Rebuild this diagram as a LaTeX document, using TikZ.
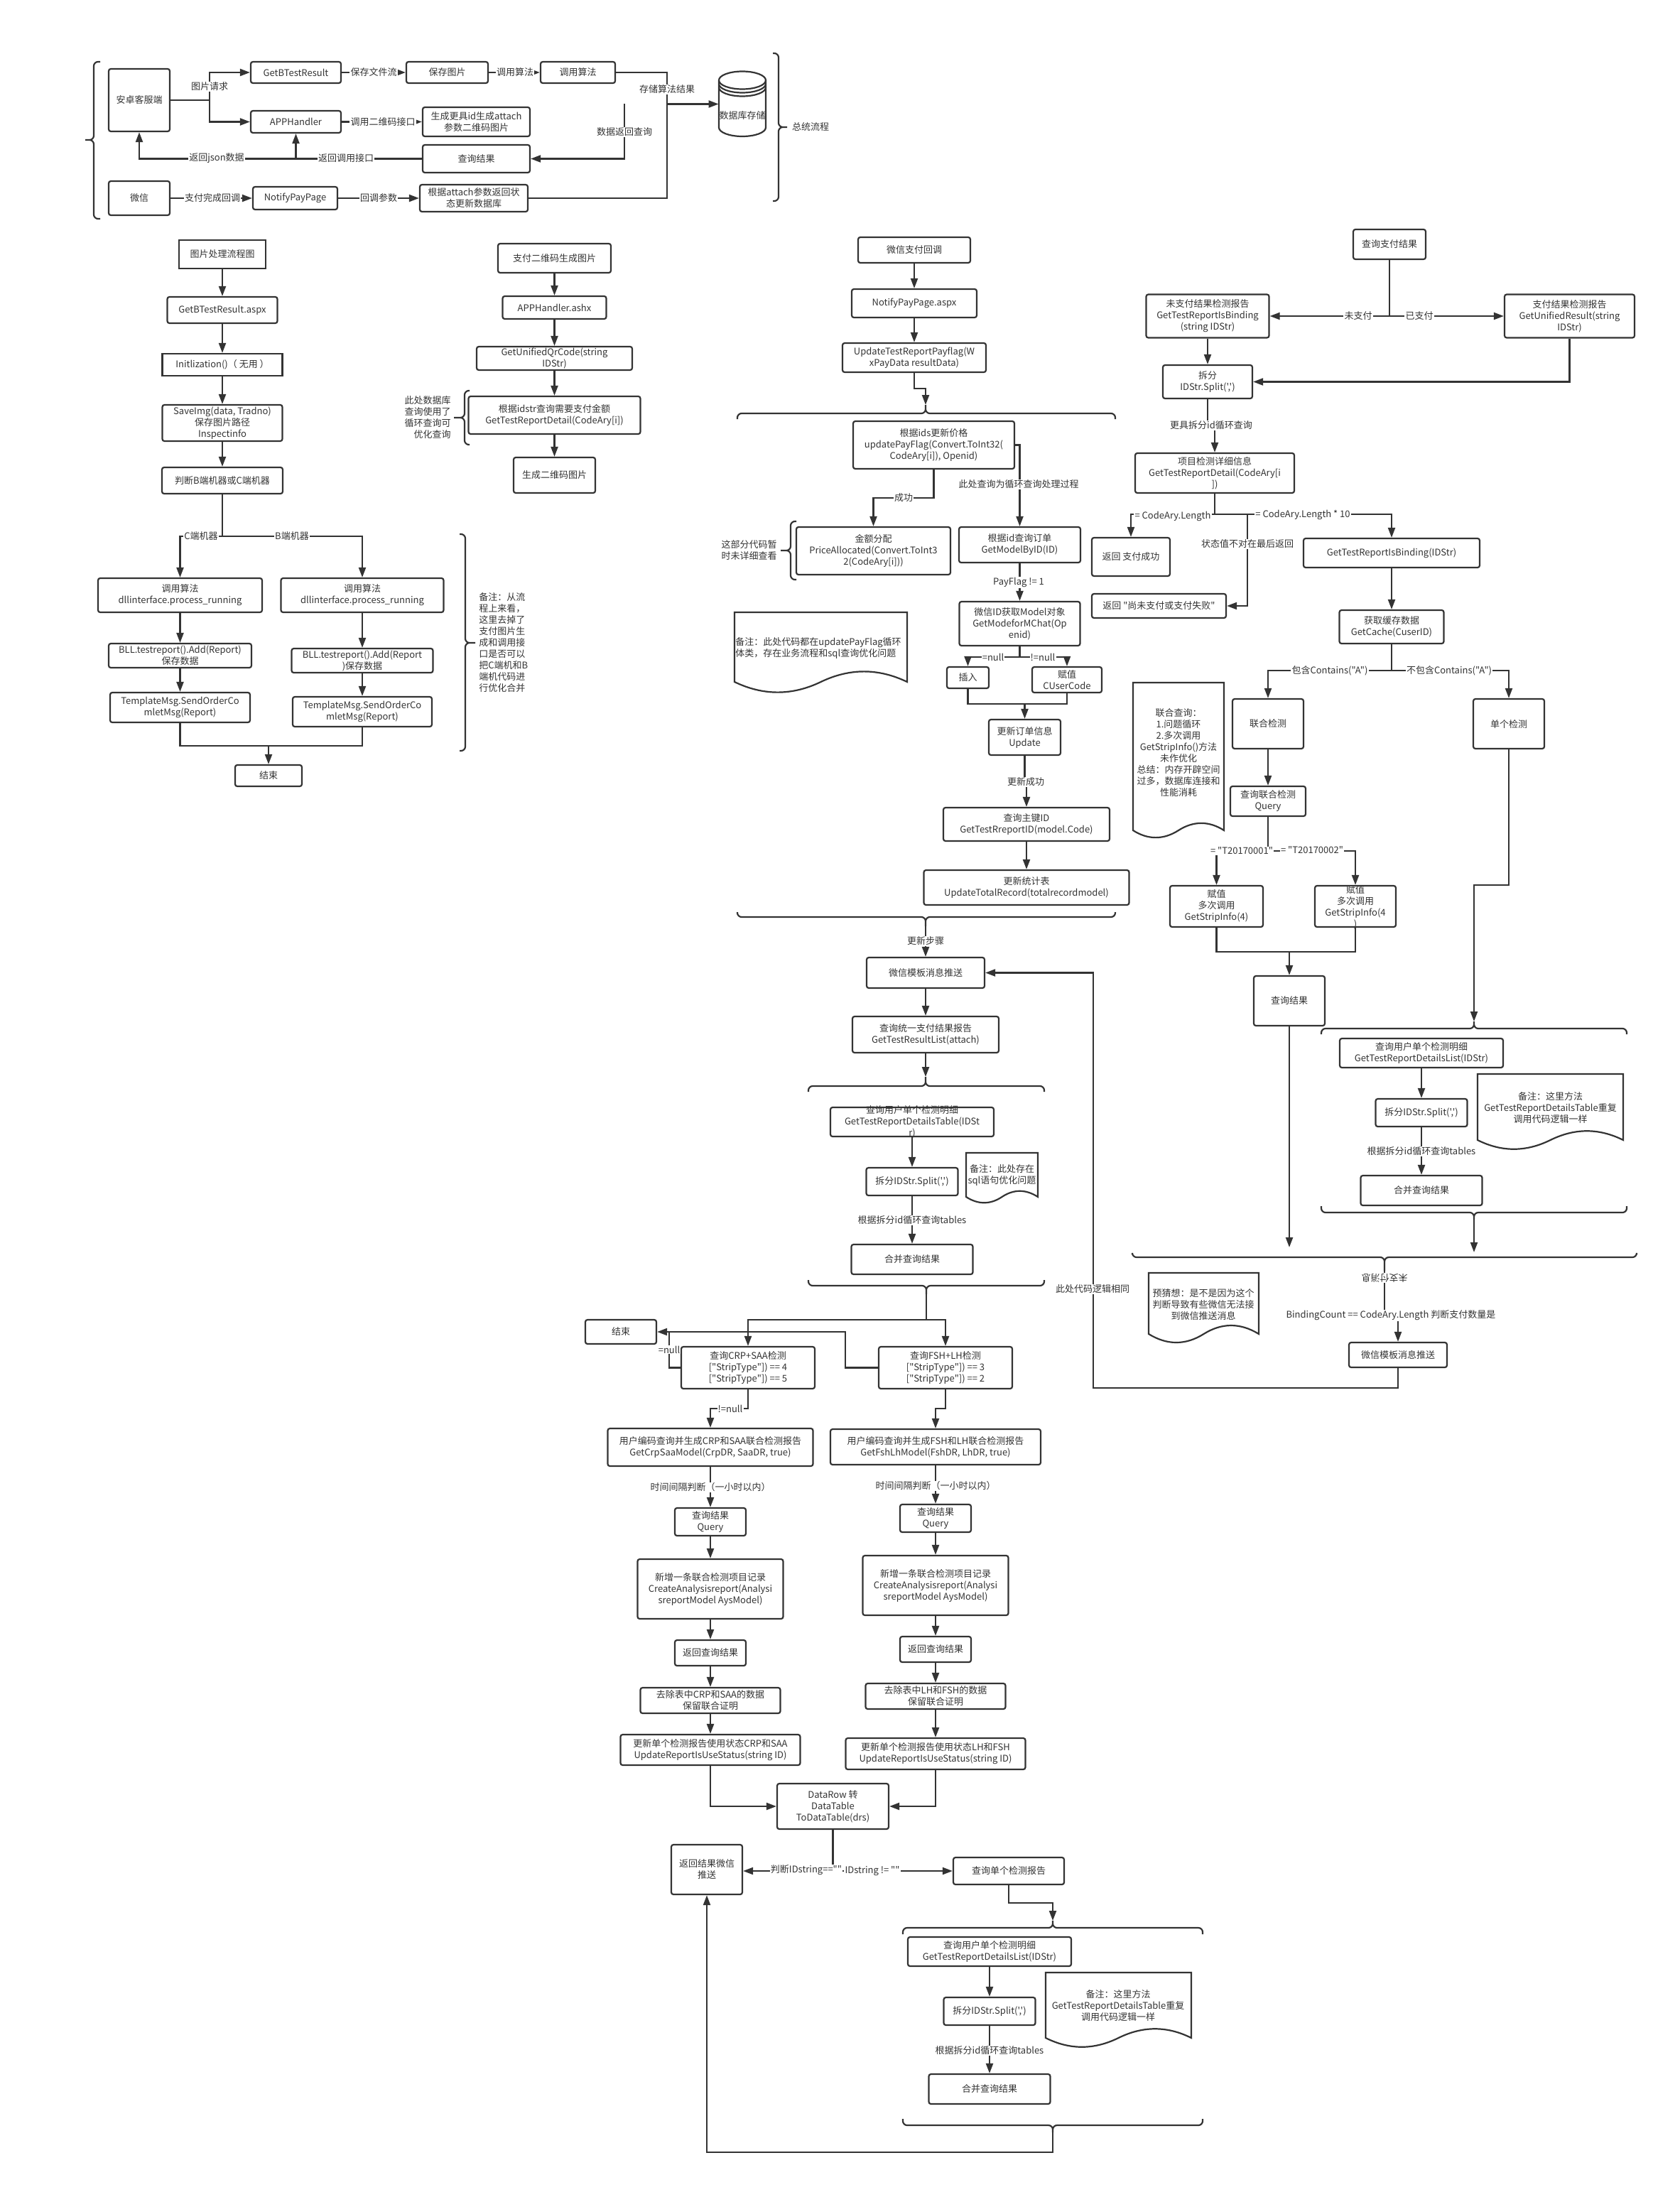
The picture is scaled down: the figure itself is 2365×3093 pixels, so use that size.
\documentclass[tikz,border=0pt]{standalone}
\usepackage{fontspec}
\setmainfont[Ligatures=TeXOff]{Noto Sans CJK SC}
\usepackage{xcolor}
\usetikzlibrary{arrows.meta}
\definecolor{ink}{HTML}{333333}

\begin{document}
\begin{tikzpicture}[x=0.5pt,y=-0.5pt,
%    every node/.style={draw},
    every node/.style={text=ink,align=center,font=\fontsize{6.5}{8}\selectfont},
    sz/.style 2 args={minimum width=#1*0.5pt,minimum height=#2*0.5pt},
    box/.style={draw=ink,line width=1.1pt,rounded corners=1.5pt,inner sep=0pt},
    sharp/.style={sharp corners},
    lab/.style={fill=white,inner sep=0.6pt},
    txt/.style={inner sep=0pt},
    link/.style={draw=ink,line width=1.1pt},
    arr/.style={link,-{Triangle[length=7pt,width=5pt]}},
    brace/.style={link,rounded corners=3pt},
    doc/.style={link,line join=miter}]

    \useasboundingbox (0,0) rectangle (2365,3093);

    % boxes
    \begin{scope}[every node/.append style={box}]
      % overview
      \node[sz={86}{88}] (android) at (196,141) {安卓客服端};
      \node[sz={127}{30}] (getb) at (416.5,102) {GetBTestResult};
      \node[sz={115}{30}] (savePic) at (629.5,102) {保存图片};
      \node[sz={105}{30}] (algo) at (813.5,102) {调用算法};
      \node[sz={127}{31}] (appH) at (416.5,171.5) {APPHandler};
      \node[sz={151}{41}] (genQr) at (670.5,171.5) {生成更具id生成attach\\参数二维码图片};
      \node[sz={151}{39}] (qres) at (670.5,223.5) {查询结果};
      \node[sz={86}{48}] (wx) at (196,279) {微信};
      \node[sz={119}{32}] (notify) at (415.5,279) {NotifyPayPage};
      \node[sz={152}{38}] (attach) at (667,279) {根据attach参数返回状\\态更新数据库};

      % picture handling
      \node[sz={122}{40},sharp] (title) at (313,358) {图片处理流程图};
      \node[sz={155}{37}] (aspx) at (313,436.5) {GetBTestResult.aspx};
      \node[sz={169}{31},sharp] (init) at (313,513.5) {Initlization()（ 无用 ）};
      \node[sz={169}{51}] (saveImg) at (313,595.5) {SaveImg(data, Tradno)\\保存图片路径\\Inspectinfo};
      \node[sz={170}{37}] (judge) at (313,676.5) {判断B端机器或C端机器};
      \node[sz={231}{48}] (algoC) at (253.5,838) {调用算法\\dllinterface.process\_running};
      \node[sz={229}{48}] (algoB) at (510,838) {调用算法\\dllinterface.process\_running};
      \node[sz={201}{34}] (addC) at (253.5,923) {BLL.testreport().Add(Report)\\保存数据};
      \node[sz={199}{34}] (addB) at (510,930) {BLL.testreport().Add(Report\\)保存数据};
      \node[sz={197}{42}] (tmplC) at (253.5,996) {TemplateMsg.SendOrderCo\\mletMsg(Report)};
      \node[sz={196}{42}] (tmplB) at (510,1002) {TemplateMsg.SendOrderCo\\mletMsg(Report)};
      \node[sz={94}{30}] (endPic) at (378,1092) {结束};

      % qr code
      \node[sz={159}{41}] (qrTitle) at (780.5,363.5) {支付二维码生成图片};
      \node[sz={146}{32}] (ashx) at (780.5,433) {APPHandler.ashx};
      \node[sz={219}{33}] (unified) at (780.5,504.5) {GetUnifiedQrCode(string\\IDStr)};
      \node[sz={242}{53}] (price) at (780.5,584.5) {根据idstr查询需要支付金额\\GetTestReportDetail(CodeAry[i])};
      \node[sz={115}{50}] (qrPic) at (780.5,669) {生成二维码图片};

      % wechat callback
      \node[sz={158}{36}] (payCb) at (1287,352) {微信支付回调};
      \node[sz={176}{40}] (notifyAspx) at (1287,427) {NotifyPayPage.aspx};
      \node[sz={202}{41}] (updFlag) at (1287,503.5) {UpdateTestReportPayflag(W\\xPayData resultData)};
      \node[sz={227}{67}] (ids) at (1314.5,626.5) {根据ids更新价格\\updatePayFlag(Convert.ToInt32(\\CodeAry[i]), Openid)};
      \node[sz={217}{67}] (alloc) at (1229.5,775.5) {金额分配\\PriceAllocated(Convert.ToInt3\\2(CodeAry[i]))};
      \node[sz={171}{50}] (getById) at (1435.5,767) {根据id查询订单\\GetModelByID(ID)};
      \node[sz={170}{62}] (mchat) at (1435.5,878) {微信ID获取Model对象\\GetModeforMChat(Op\\enid)};
      \node[sz={59}{30}] (insert) at (1362.5,954) {插入};
      \node[sz={98}{36}] (assign) at (1502,957) {赋值\\CUserCode};
      \node[sz={101}{50}] (update) at (1442.5,1038) {更新订单信息\\Update};
      \node[sz={234}{47}] (rptId) at (1445,1160.5) {查询主键ID\\GetTestRreportID(model.Code)};
      \node[sz={289}{49}] (total) at (1445,1249.5) {更新统计表\\UpdateTotalRecord(totalrecordmodel)};
      \node[sz={166}{43}] (tmplMsg) at (1303,1369.5) {微信模板消息推送};
      \node[sz={206}{51}] (resList) at (1303,1456.5) {查询统一支付结果报告\\GetTestResultList(attach)};
      \node[sz={230}{41}] (detailTb) at (1284,1579.5) {};
      \node[sz={129}{39}] (split) at (1284,1663.5) {拆分IDStr.Split(',')};
      \node[sz={171}{42}] (merge) at (1284,1773) {合并查询结果};

      % pay result query
      \node[sz={102}{42}] (qPay) at (1956,344) {查询支付结果};
      \node[sz={173}{61}] (unpaid) at (1700,445) {未支付结果检测报告\\GetTestReportIsBinding\\(string IDStr)};
      \node[sz={183}{61}] (paid) at (2209.5,445) {支付结果检测报告\\GetUnifiedResult(string\\IDStr)};
      \node[sz={126}{47}] (splitA) at (1700,537.5) {拆分\\IDStr.Split(',')};
      \node[sz={224}{56}] (detail) at (1710,666) {项目检测详细信息\\GetTestReportDetail(CodeAry[i\\])};
      \node[sz={110}{54}] (retOk) at (1592,784) {返回 支付成功};
      \node[sz={189}{34}] (retFail) at (1631.5,853) {返回 "尚未支付或支付失败"};
      \node[sz={248}{41}] (binding) at (1959,778.5) {GetTestReportIsBinding(IDStr)};
      \node[sz={147}{47}] (cache) at (1959,882.5) {获取缓存数据\\GetCache(CuserID)};
      \node[sz={100}{70}] (joint) at (1785,1019) {联合检测};
      \node[sz={100}{70}] (single) at (2124,1019) {单个检测};
      \node[sz={106}{42}] (jointQ) at (1785,1128) {查询联合检测\\Query};
      \node[sz={131}{58}] (setL) at (1712.5,1276) {赋值\\多次调用\\GetStripInfo(4)};
      \node[sz={114}{58}] (setR) at (1908,1276) {};
      \node[sz={100}{70}] (qResult) at (1815,1409) {查询结果};
      \node[sz={230}{41}] (listA) at (2001,1482.5) {查询用户单个检测明细\\GetTestReportDetailsList(IDStr)};
      \node[sz={129}{39}] (splitB) at (2001,1566.5) {拆分IDStr.Split(',')};
      \node[sz={171}{42}] (mergeB) at (2001,1676) {合并查询结果};
      \node[sz={138}{35}] (tmpl2) at (1968,1907.5) {微信模板消息推送};

      % joint report
      \node[sz={100}{34}] (endJoint) at (874,1875) {结束};
      \node[sz={188}{59}] (crp) at (1053,1925.5) {查询CRP+SAA检测\\{}["StripType"]) == 4\\{}["StripType"]) == 5};
      \node[sz={188}{59}] (fsh) at (1331,1925.5) {查询FSH+LH检测\\{}["StripType"]) == 3\\{}["StripType"]) == 2};
      \node[sz={289}{53}] (modelL) at (1000,2037.5) {用户编码查询并生成CRP和SAA联合检测报告\\GetCrpSaaModel(CrpDR, SaaDR, true)};
      \node[sz={296}{50}] (modelR) at (1317,2037) {用户编码查询并生成FSH和LH联合检测报告\\GetFshLhModel(FshDR, LhDR, true)};
      \node[sz={100}{39}] (queryL) at (1000,2142.5) {查询结果\\Query};
      \node[sz={100}{39}] (queryR) at (1317,2137.5) {查询结果\\Query};
      \node[sz={205}{84}] (addL) at (1000,2237) {新增一条联合检测项目记录\\CreateAnalysisreport(Analysi\\sreportModel AysModel)};
      \node[sz={205}{84}] (addR) at (1317,2232) {新增一条联合检测项目记录\\CreateAnalysisreport(Analysi\\sreportModel AysModel)};
      \node[sz={100}{36}] (retL) at (1000,2327) {返回查询结果};
      \node[sz={100}{36}] (retR) at (1317,2322) {返回查询结果};
      \node[sz={197}{36}] (delL) at (1000,2394) {去除表中CRP和SAA的数据\\保留联合证明};
      \node[sz={197}{36}] (delR) at (1317,2388) {去除表中LH和FSH的数据\\保留联合证明};
      \node[sz={253}{43}] (updL) at (1000,2463.5) {更新单个检测报告使用状态CRP和SAA\\UpdateReportIsUseStatus(string ID)};
      \node[sz={253}{44}] (updR) at (1317,2469) {更新单个检测报告使用状态LH和FSH\\UpdateReportIsUseStatus(string ID)};
      \node[sz={157}{64}] (dataT) at (1172.5,2543) {DataRow 转\\DataTable\\ToDataTable(drs)};
      \node[sz={100}{70}] (retMsg) at (995,2632) {返回结果微信\\推送};
      \node[sz={156}{38}] (qSingle) at (1420,2634) {查询单个检测报告};
      \node[sz={230}{41}] (listC) at (1393,2747.5) {查询用户单个检测明细\\GetTestReportDetailsList(IDStr)};
      \node[sz={129}{39}] (splitC) at (1393,2831.5) {拆分IDStr.Split(',')};
      \node[sz={171}{42}] (mergeC) at (1393,2941) {合并查询结果};
    \end{scope}

    % the database takes its outline from the paths below
    \node[txt,sz={66}{91}] (db) at (1045,146.5) {};

    % tips of the braces, bends of the connectors
    \coordinate (jClient) at (295,141);
    \coordinate (jStore) at (939,146.5);
    \coordinate (jQuery) at (879,146.5);
    \coordinate (jBack) at (416.5,223.5);
    \coordinate (jMachine) at (313,755);
    \coordinate (jEnd) at (378,1050);
    \coordinate (jFlag) at (1303,547);
    \coordinate (brPayTop) at (1303,570);
    \coordinate (jOk) at (1314.5,701);
    \coordinate (jNull) at (1435.5,925);
    \coordinate (jMerge) at (1442.5,991);
    \coordinate (jSaved) at (1442.5,1101);
    \coordinate (brPayEnd) at (1303,1304);
    \coordinate (brTbTop) at (1303,1516);
    \coordinate (brTbEnd) at (1304,1822);
    \coordinate (jBoth) at (1304,1858);
    \coordinate (jPay) at (1956,445);
    \coordinate (jLoop) at (1700,599);
    \coordinate (jLen) at (1710,724);
    \coordinate (jState) at (1756,724);
    \coordinate (jHas) at (1959,944);
    \coordinate (jCode) at (1785,1198);
    \coordinate (jSet) at (1815,1340);
    \coordinate (jSingle) at (2075,1246);
    \coordinate (brListTop) at (2075,1438);
    \coordinate (brListEnd) at (2075,1717);
    \coordinate (toAllA) at (1815,1756);
    \coordinate (toAllB) at (2075,1763);
    \coordinate (brAll) at (1949,1789);
    \coordinate (jBind) at (1949,1852);
    \coordinate (jBackTmpl) at (1539,1954);
    \coordinate (jNil) at (942,1875);
    \coordinate (jNilR) at (1190,1875);
    \coordinate (jCrp) at (1053,1983);
    \coordinate (jFsh) at (1331,1983);
    \coordinate (jId) at (1172.5,2634);
    \coordinate (jQs) at (1482,2679);
    \coordinate (brDtTop) at (1482,2704);
    \coordinate (brDtEnd) at (1482,3002);
    \coordinate (jRet) at (995,3030);

    % overview
    \draw[link] (android.east) -- (jClient);
    \draw[arr] (jClient) |- (getb.west);
    \draw[arr] (jClient) |- (appH.west);
    \draw[arr] (getb) -- (savePic);
    \draw[arr] (savePic) -- (algo);
    \draw[arr] (appH) -- (genQr);
    \draw[arr] (algo.east) -| (jStore) -- (db.west);
    \draw[link] (attach.east) -| (jStore);
    \draw[arr] (jQuery) |- (qres.east);
    \draw[arr] (qres.west) -| (android.south);
    \draw[arr] (jBack) -- (appH.south);
    \draw[arr] (wx) -- (notify);
    \draw[arr] (notify) -- (attach);

    % database
    \draw[link] (1012,113) arc[start angle=180,end angle=-180,x radius=33,y radius=12.5];
    \draw[link] (1012,118) arc[start angle=180,end angle=0,x radius=33,y radius=12.5];
    \draw[link] (1012,123) arc[start angle=180,end angle=0,x radius=33,y radius=12.5];
    \draw[link] (1012,113) -- (1012,179.5) arc[start angle=180,end angle=0,x radius=33,y radius=12.5] -- (1078,113);

    \draw[brace] (141,87) -- (132,87) -- (132,197) -- (120,197) (141,308) -- (132,308) -- (132,197) -- (120,197);
    \draw[brace] (1088,75) -- (1096,75) -- (1096,179) -- (1108,179) (1088,283) -- (1096,283) -- (1096,179) -- (1108,179);

    % picture handling
    \draw[arr] (title) -- (aspx);
    \draw[arr] (aspx) -- (init);
    \draw[arr] (init) -- (saveImg);
    \draw[arr] (saveImg) -- (judge);
    \draw[link] (judge) -- (jMachine);
    \draw[arr] (jMachine) -| (algoC.north);
    \draw[arr] (jMachine) -| (algoB.north);
    \draw[arr] (algoC) -- (addC);
    \draw[arr] (algoB) -- (addB);
    \draw[arr] (addC) -- (tmplC);
    \draw[arr] (addB) -- (tmplB);
    \draw[link] (tmplC.south) |- (jEnd) -| (tmplB.south);
    \draw[arr] (jEnd) -- (endPic.north);
    \draw[brace] (647,752) -- (655,752) -- (655,905) -- (669,905) (647,1057) -- (655,1057) -- (655,905) -- (669,905);

    % qr code
    \draw[arr] (qrTitle) -- (ashx);
    \draw[arr] (ashx) -- (unified);
    \draw[arr] (unified) -- (price);
    \draw[arr] (price) -- (qrPic);
    \draw[brace] (661,550) -- (654,550) -- (654,588) -- (639,588) (661,626) -- (654,626) -- (654,588) -- (639,588);

    % wechat callback
    \draw[arr] (payCb) -- (notifyAspx);
    \draw[arr] (notifyAspx) -- (updFlag);
    \draw[arr] (updFlag.south) |- (jFlag) -- (brPayTop);
    \draw[brace] (1038,590) -- (1038,582) -- (1303,582) -- (brPayTop) (1570,590) -- (1570,582) -- (1303,582) -- (brPayTop);
    \draw[arr] (ids.south) -- (jOk) -| (alloc.north);
    \draw[arr] (ids.east) -| (getById.north);
    \draw[brace] (1121,734) -- (1113,734) -- (1113,775) -- (1099,775) (1121,816) -- (1113,816) -- (1113,775) -- (1099,775);
    \draw[arr] (getById) -- (mchat);
    \draw[link] (mchat.south) -- (jNull);
    \draw[arr] (jNull) -| (insert.north);
    \draw[arr] (jNull) -| (assign.north);
    \draw[link] (insert.south) |- (jMerge) -| (assign.south);
    \draw[arr] (jMerge) -- (update.north);
    \draw[arr] (update.south) -- (jSaved) -| (rptId.north);
    \draw[arr] (rptId) -- (total);
    \draw[brace] (1038,1284) -- (1038,1291) -- (1303,1291) -- (brPayEnd) (1570,1284) -- (1570,1291) -- (1303,1291) -- (brPayEnd);
    \draw[arr] (brPayEnd) -- (tmplMsg.north);
    \draw[arr] (tmplMsg) -- (resList);
    \draw[arr] (resList.south) -- (brTbTop);
    \draw[brace] (1138,1537) -- (1138,1529) -- (1303,1529) -- (brTbTop) (1470,1537) -- (1470,1529) -- (1303,1529) -- (brTbTop);
    \draw[arr] (detailTb) -- (split);
    \draw[arr] (split) -- (merge);
    \draw[brace] (1138,1802) -- (1138,1810) -- (1304,1810) -- (brTbEnd) (1470,1802) -- (1470,1810) -- (1304,1810) -- (brTbEnd);
    \draw[link] (brTbEnd) -- (jBoth);
    \draw[arr] (jBoth) -| (crp.north);
    \draw[arr] (jBoth) -| (fsh.north);

    % pay result query
    \draw[link] (qPay.south) -- (jPay);
    \draw[arr] (jPay) -- (unpaid.east);
    \draw[arr] (jPay) -- (paid.west);
    \draw[arr] (unpaid) -- (splitA);
    \draw[arr] (paid.south) |- (splitA.east);
    \draw[arr] (splitA.south) -- (jLoop) -| (detail.north);
    \draw[link] (detail.south) -- (jLen);
    \draw[arr] (jLen) -| (retOk.north);
    \draw[arr] (jLen) -| (binding.north);
    \draw[arr] (jState) |- (retFail.east);
    \draw[arr] (binding) -- (cache);
    \draw[link] (cache.south) -- (jHas);
    \draw[arr] (jHas) -| (joint.north);
    \draw[arr] (jHas) -| (single.north);
    \draw[arr] (joint) -- (jointQ);
    \draw[link] (jointQ.south) -- (jCode);
    \draw[arr] (jCode) -| (setL.north);
    \draw[arr] (jCode) -| (setR.north);
    \draw[link] (setL.south) |- (jSet) -| (setR.south);
    \draw[arr] (jSet) -- (qResult.north);
    \draw[arr] (qResult.south) -- (toAllA);
    \draw[arr] (single.south) |- (jSingle) -- (brListTop);
    \draw[brace] (1860,1456) -- (1860,1448) -- (2075,1448) -- (brListTop) (2290,1456) -- (2290,1448) -- (2075,1448) -- (brListTop);
    \draw[arr] (listA) -- (splitB);
    \draw[arr] (splitB) -- (mergeB);
    \draw[brace] (1860,1698) -- (1860,1707) -- (2075,1707) -- (brListEnd) (2290,1698) -- (2290,1707) -- (2075,1707) -- (brListEnd);
    \draw[arr] (brListEnd) -- (toAllB);
    \draw[brace] (1594,1766) -- (1594,1770) -- (1949,1770) -- (brAll) (2304,1766) -- (2304,1770) -- (1949,1770) -- (brAll);
    \draw[arr] (brAll) -- (jBind) -| (tmpl2.north);
    \draw[arr] (tmpl2.south) |- (jBackTmpl) |- (tmplMsg.east);

    % joint report
    \draw[arr] (crp.west) -| (jNil) -- (endJoint.east);
    \draw[link] (fsh.west) -| (jNilR) -- (jNil);
    \draw[arr] (crp.south) -- (jCrp) -| (modelL.north);
    \draw[arr] (fsh.south) -- (jFsh) -| (modelR.north);
    \draw[arr] (modelL) -- (queryL);
    \draw[arr] (modelR) -- (queryR);
    \draw[arr] (queryL) -- (addL);
    \draw[arr] (queryR) -- (addR);
    \draw[arr] (addL) -- (retL);
    \draw[arr] (addR) -- (retR);
    \draw[arr] (retL) -- (delL);
    \draw[arr] (retR) -- (delR);
    \draw[arr] (delL) -- (updL);
    \draw[arr] (delR) -- (updR);
    \draw[arr] (updL.south) |- (dataT.west);
    \draw[arr] (updR.south) |- (dataT.east);
    \draw[link] (dataT.south) -- (jId);
    \draw[arr] (jId) -- (retMsg.east |- jId);
    \draw[arr] (jId) -- (qSingle.west);
    \draw[arr] (qSingle.south) |- (jQs) -- (brDtTop);
    \draw[brace] (1271,2723) -- (1271,2714) -- (1482,2714) -- (brDtTop) (1693,2723) -- (1693,2714) -- (1482,2714) -- (brDtTop);
    \draw[arr] (listC) -- (splitC);
    \draw[arr] (splitC) -- (mergeC);
    \draw[brace] (1271,2983) -- (1271,2992) -- (1482,2992) -- (brDtEnd) (1693,2983) -- (1693,2992) -- (1482,2992) -- (brDtEnd);
    \draw[arr] (brDtEnd) |- (jRet) -- (retMsg.south);

    % paper shapes
    \draw[doc] (1034,862) -- (1277,862) -- (1277,960) .. controls (1236.5,940.5) and (1196,940.5) .. (1155.5,960) .. controls (1115,979.5) and (1074.5,979.5) .. (1034,960) -- cycle;
    \draw[doc] (1360,1623) -- (1461,1623) -- (1461,1685) .. controls (1444,1674) and (1427,1674) .. (1410.5,1685) .. controls (1394,1696) and (1377,1696) .. (1360,1685) -- cycle;
    \draw[doc] (1595,961) -- (1723,961) -- (1723,1169) .. controls (1702,1155.5) and (1680,1155.5) .. (1659,1169) .. controls (1638,1182.5) and (1616,1182.5) .. (1595,1169) -- cycle;
    \draw[doc] (2080,1512) -- (2285,1512) -- (2285,1605) .. controls (2251,1588) and (2217,1588) .. (2182.5,1605) .. controls (2148,1622) and (2114,1622) .. (2080,1605) -- cycle;
    \draw[doc] (1617,1792) -- (1772,1792) -- (1772,1878) .. controls (1746,1862) and (1720,1862) .. (1694.5,1878) .. controls (1669,1894) and (1643,1894) .. (1617,1878) -- cycle;
    \draw[doc] (1472,2777) -- (1677,2777) -- (1677,2869) .. controls (1643,2852) and (1609,2852) .. (1574.5,2869) .. controls (1540,2886) and (1506,2886) .. (1472,2869) -- cycle;

    % loose texts
    \begin{scope}[every node/.append style={txt}]
      \node (dbText) at (1045,163) {数据库存储};
      \node (allFlow) at (1141,179) {总统流程};
      \node[anchor=west,align=left] (noteMerge) at (674,905) {备注：从流\\程上来看，\\这里去掉了\\支付图片生\\成和调用接\\口是否可以\\把C端机和B\\端机代码进\\行优化合并};
      \node[anchor=east,align=right] (noteLoop) at (635,588) {此处数据库\\查询使用了\\循环查询可\\优化查询};
      \node[anchor=east,align=left] (noteAlloc) at (1094,775) {这部分代码暂\\时未详细查看};
      \node[anchor=west,align=left] (notePay) at (1035,912) {备注：此处代码都在updatePayFlag循环\\体类，存在业务流程和sql查询优化问题};
      \node (noteSql) at (1410.5,1654) {备注：此处存在\\sql语句优化问题};
      \node (noteJoint) at (1659,1060) {联合查询：\\1.问题循环\\2.多次调用\\GetStripInfo()方法\\未作优化\\总结：内存开辟空间\\过多，数据库连接和\\性能消耗};
      \node (noteSameA) at (2182.5,1560) {备注：这里方法\\GetTestReportDetailsTable重复\\调用代码逻辑一样};
      \node (noteGuess) at (1694,1837) {预猜想：是不是因为这个\\判断导致有些微信无法接\\到微信推送消息};
      \node (noteSameB) at (1574,2824) {备注：这里方法\\GetTestReportDetailsTable重复\\调用代码逻辑一样};
      \node (detailText) at (1284,1579) {查询用户单个检测明细\\GetTestReportDetailsTable(IDSt\\r)};
      \node (setRText) at (1908,1277) {赋值\\多次调用\\GetStripInfo(4\\)};
    \end{scope}

    % connector labels
    \begin{scope}[every node/.append style={lab}]
      \node (lbAsk) at (295,122) {图片请求};
      \node (lbStream) at (526,102) {保存文件流};
      \node (lbAlgo) at (725,102) {调用算法};
      \node (lbStore) at (939,126) {存储算法结果};
      \node (lbDbQuery) at (879,186) {数据返回查询};
      \node (lbQrCall) at (539,172) {调用二维码接口};
      \node (lbJson) at (305,223) {返回json数据};
      \node (lbCall) at (487,223) {返回调用接口};
      \node (lbPaid) at (299,279) {支付完成回调};
      \node (lbBack) at (533,279) {回调参数};
      \node (lbC) at (283,755) {C端机器};
      \node (lbB) at (411,755) {B端机器};
      \node (lbOk) at (1272,701) {成功};
      \node (lbLoop) at (1434,682) {此处查询为循环查询处理过程};
      \node (lbFlag) at (1434,820) {PayFlag != 1};
      \node (lbNull) at (1398,925) {=null};
      \node (lbNotNull) at (1468,925) {!=null};
      \node (lbSaved) at (1444,1101) {更新成功};
      \node (lbStep) at (1303,1325) {更新步骤};
      \node (lbTables) at (1284,1718) {根据拆分id循环查询tables};
      \node (lbSame) at (1538,1815) {此处代码逻辑相同};
      \node (lbNotPay) at (1912,445) {未支付};
      \node (lbHasPay) at (1998,445) {已支付};
      \node (lbSplit) at (1705,599) {更具拆分id循环查询};
      \node (lbLen) at (1651,727) {= CodeAry.Length};
      \node (lbLenTen) at (1834,725) {= CodeAry.Length * 10};
      \node (lbState) at (1756,766) {状态值不对在最后返回};
      \node (lbHas) at (1872,944) {包含Contains("A")};
      \node (lbHasNot) at (2040,944) {不包含Contains("A")};
      \node (lbCodeA) at (1748,1198) {= "T20170001"};
      \node (lbCodeB) at (1847,1197) {= "T20170002"};
      \node (lbTablesB) at (2001,1621) {根据拆分id循环查询tables};
      \node[rotate=180] (lbFlip) at (1949,1799) {未支付消息};
      \node (lbBind) at (1958,1852) {BindingCount == CodeAry.Length 判断支付数量是};
      \node (lbNil) at (942,1900) {=null};
      \node (lbNotNil) at (1028,1983) {!=null};
      \node (lbTimeL) at (1000,2094) {时间间隔判断（一小时以内）};
      \node (lbTimeR) at (1317,2092) {时间间隔判断（一小时以内）};
      \node (lbEmpty) at (1135,2633) {判断IDstring==""};
      \node (lbNotEmpty) at (1228,2634) {IDstring != ""};
      \node (lbTablesC) at (1393,2887) {根据拆分id循环查询tables};
    \end{scope}
  \end{tikzpicture}
\end{document}
